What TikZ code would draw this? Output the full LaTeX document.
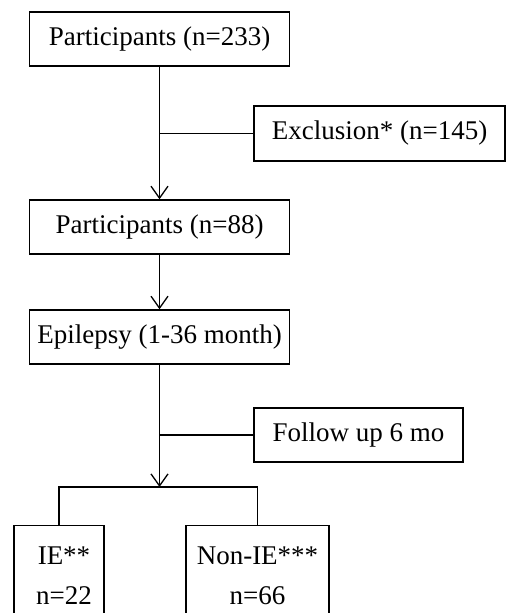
\documentclass[tikz,border=0pt]{standalone}
\usepackage{fontspec}
\setmainfont{Liberation Serif}
\usetikzlibrary{positioning, arrows.meta}

\tikzset{
  flowbox/.style={draw, line width=0.7pt, inner sep=0pt, minimum height=27pt, font=\fontsize{13.5}{20}\selectfont},
  leafbox/.style={flowbox, anchor=north, align=center, minimum height=50pt},
  flowline/.style={line width=0.65pt},
  flowarrow/.style={flowline, -{Straight Barb[length=6pt, width=8.5pt, line width=0.65pt]}}
}

\begin{document}
\begin{tikzpicture}[x=0.5pt, y=-0.5pt]
\useasboundingbox (0, 0) rectangle (506, 613);

\node[flowbox, minimum width=129.75pt] (p233) at (159.5, 39) {Participants (n=233)};
\node[flowbox, minimum width=125.5pt, minimum height=27.5pt] (excl) at (379.5, 133.5) {Exclusion* (n=145)};
\node[flowbox, minimum width=129.75pt] (p88) at (159.5, 227) {Participants (n=88)};
\node[flowbox, minimum width=129.75pt] (epi) at (159.5, 337) {Epilepsy (1-36 month)};
\node[flowbox, minimum width=104.5pt] (fol) at (358.5, 435) {Follow up 6 mo};
\node[leafbox, minimum width=45pt] (ie) at (59, 525) {\hspace{5pt}IE**\\\hspace{5pt}n=22};
\node[leafbox, minimum width=71.5pt] (nonie) at (257.5, 525) {Non-IE***\\n=66};

\coordinate (split) at (159.5, 487);

% main flow
\draw[flowarrow] (p233.south) -- (p88.north);
\draw[flowline] (excl.west) -- (p233 |- excl);
\draw[flowarrow] (p88.south) -- (epi.north);
\draw[flowarrow] (epi.south) -- (split);
\draw[flowline] (fol.west) -- (epi |- fol);

% split into groups
\draw[flowline] (ie.north) |- (split) -| (nonie.north);

\end{tikzpicture}
\end{document}
